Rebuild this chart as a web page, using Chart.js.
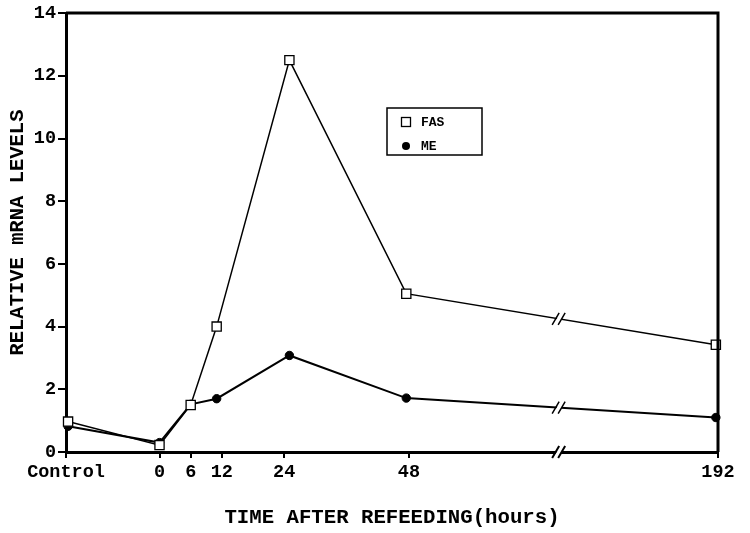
<!DOCTYPE html>
<html>
<head>
<meta charset="utf-8">
<script src="https://cdn.jsdelivr.net/npm/chart.js@4/dist/chart.umd.min.js"></script>
<style>
  html, body { margin: 0; padding: 0; background: #fff; }
  #wrap { width: 750px; height: 533px; position: relative; }
</style>
</head>
<body>
<div id="wrap"><canvas id="chart" width="750" height="533"></canvas></div>
<script>
// Tick labels along the time axis (hours after refeeding)
const tickLabels = ['Control', '0', '6', '12', '24', '48', '192'];
const tickHours = [null, 0, 6, 12, 24, 48, 192];

// Where each sample was plotted (hours, null = control)
const pointHours = [null, 0, 6, 11, 25, 47.5, 191];

// Relative mRNA levels
const fasValues = [0.97, 0.22, 1.5, 4.0, 12.5, 5.05, 3.42];
const meValues = [0.82, 0.30, 1.52, 1.70, 3.08, 1.72, 1.10];

// Axis break: everything past 48 h is compressed
const CONTROL_POS = -17.6;
const BREAK_START = 48;
const BREAK_SCALE = 59.5 / 144;
const BREAK_MARK_HOURS = 118;

function axisPos(h) {
    if (h === null) return CONTROL_POS;
    if (h <= BREAK_START) return h;
    return BREAK_START + (h - BREAK_START) * BREAK_SCALE;
}

const tickPositions = tickHours.map(h => h === null ? -18 : axisPos(h));
const FONT = "'Liberation Mono', 'Courier New', monospace";

function toPoints(values) {
    return values.map((v, i) => ({ x: axisPos(pointHours[i]), y: v }));
}

// frame, break marks and legend box
const decorations = {
    id: 'decorations',
    afterDatasetsDraw(chart) {
        const { ctx, chartArea: a, scales: { x } } = chart;
        ctx.save();
        ctx.strokeStyle = '#000';
        ctx.lineWidth = 3;
        ctx.beginPath();
        ctx.moveTo(a.left, a.top);
        ctx.lineTo(a.right, a.top);
        ctx.lineTo(a.right, a.bottom);
        ctx.stroke();

        const bx = x.getPixelForValue(axisPos(BREAK_MARK_HOURS));
        const drawBreak = (cx, cy, w) => {
            ctx.fillStyle = '#fff';
            ctx.beginPath();
            ctx.moveTo(cx - 6, cy + 6);
            ctx.lineTo(cx - 1, cy + 6);
            ctx.lineTo(cx + 6, cy - 6);
            ctx.lineTo(cx + 1, cy - 6);
            ctx.closePath();
            ctx.fill();
            ctx.strokeStyle = '#000';
            ctx.lineWidth = w;
            ctx.beginPath();
            ctx.moveTo(cx - 7, cy + 6); ctx.lineTo(cx, cy - 6);
            ctx.moveTo(cx - 1, cy + 6); ctx.lineTo(cx + 6, cy - 6);
            ctx.stroke();
        };
        chart.data.datasets.forEach((ds, di) => {
            const pts = chart.getDatasetMeta(di).data;
            const p0 = pts[pts.length - 2], p1 = pts[pts.length - 1];
            const t = (bx - p0.x) / (p1.x - p0.x);
            drawBreak(bx, p0.y + t * (p1.y - p0.y), 1.5);
        });
        drawBreak(bx, a.bottom, 2);

        // legend
        const lx = 387, ly = 108, lw = 95, lh = 47;
        ctx.fillStyle = '#fff';
        ctx.fillRect(lx, ly, lw, lh);
        ctx.strokeStyle = '#000';
        ctx.lineWidth = 1.5;
        ctx.strokeRect(lx, ly, lw, lh);
        ctx.font = 'bold 13px ' + FONT;
        ctx.textBaseline = 'middle';
        ctx.fillStyle = '#000';
        chart.data.datasets.forEach((ds, di) => {
            const cy = ly + 14 + di * 24;
            const cx = lx + 19;
            if (ds.pointStyle === 'rect') {
                ctx.lineWidth = 1.3;
                ctx.strokeRect(cx - 4.5, cy - 4.5, 9, 9);
            } else {
                ctx.beginPath();
                ctx.arc(cx, cy, 4, 0, Math.PI * 2);
                ctx.fill();
            }
            ctx.fillText(ds.label, lx + 34, cy + 1);
        });
        ctx.restore();
    }
};

new Chart(document.getElementById('chart'), {
    type: 'line',
    data: {
        datasets: [
            {
                label: 'FAS',
                data: toPoints(fasValues),
                borderColor: '#000',
                borderWidth: 1.5,
                pointStyle: 'rect',
                pointRadius: 6.5,
                pointBackgroundColor: '#fff',
                pointBorderColor: '#000',
                pointBorderWidth: 1.3,
                clip: false,
                tension: 0
            },
            {
                label: 'ME',
                data: toPoints(meValues),
                borderColor: '#000',
                borderWidth: 2,
                pointStyle: 'circle',
                pointRadius: 4.2,
                pointBackgroundColor: '#000',
                pointBorderColor: '#000',
                pointBorderWidth: 1,
                clip: false,
                tension: 0
            }
        ]
    },
    options: {
        responsive: false,
        animation: false,
        layout: { padding: { top: 12, right: 32, left: 0, bottom: 0 } },
        plugins: {
            legend: { display: false },
            tooltip: { enabled: false }
        },
        scales: {
            x: {
                type: 'linear',
                min: -18,
                max: axisPos(192),
                afterBuildTicks(scale) {
                    scale.ticks = tickPositions.map(v => ({ value: v }));
                },
                afterFit(scale) { scale.height = 81; },
                border: { display: true, color: '#000', width: 3 },
                grid: { drawOnChartArea: false, drawTicks: true, tickLength: 6, color: '#000', lineWidth: 2 },
                ticks: {
                    autoSkip: false,
                    maxRotation: 0,
                    padding: 3,
                    color: '#000',
                    font: { family: FONT, size: 18.5, weight: 'bold' },
                    callback(value) {
                        const i = tickPositions.indexOf(value);
                        return i >= 0 ? tickLabels[i] : '';
                    }
                },
                title: {
                    display: true,
                    text: 'TIME AFTER REFEEDING(hours)',
                    color: '#000',
                    font: { family: FONT, size: 20.7, weight: 'bold' },
                    padding: { top: 0, bottom: 3 }
                }
            },
            y: {
                min: 0,
                max: 14,
                afterFit(scale) { scale.width = 66; },
                border: { display: true, color: '#000', width: 3 },
                grid: { drawOnChartArea: false, drawTicks: true, tickLength: 8, color: '#000', lineWidth: 2 },
                ticks: {
                    stepSize: 2,
                    padding: 2,
                    color: '#000',
                    font: { family: FONT, size: 18.5, weight: 'bold' }
                },
                title: {
                    display: true,
                    text: 'RELATIVE mRNA LEVELS',
                    color: '#000',
                    font: { family: FONT, size: 20.5, weight: 'bold' },
                    padding: { top: 6, bottom: 0 }
                }
            }
        }
    },
    plugins: [decorations]
});
</script>
</body>
</html>
